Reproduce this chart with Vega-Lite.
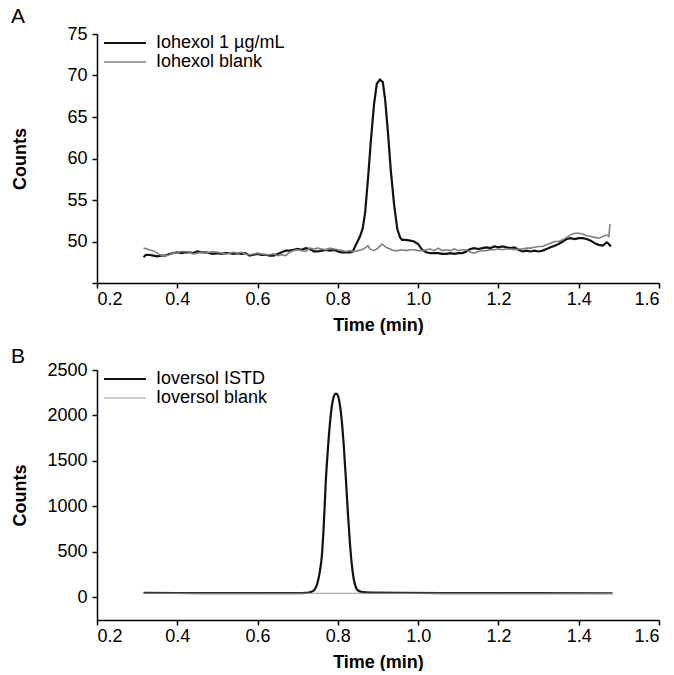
{
  "$schema": "https://vega.github.io/schema/vega-lite/v6.json",
  "background": "white",
  "padding": {"left": 11, "top": 6, "right": 5, "bottom": 0},
  "config": {
    "font": "Liberation Sans",
    "view": {"stroke": null},
    "axis": {"domainColor": "#000", "tickColor": "#000", "labelColor": "#000", "titleColor": "#000", "grid": false, "labelFontSize": 18, "titleFontSize": 18, "titleFontWeight": "bold", "tickSize": 5, "domainWidth": 1.5, "tickWidth": 1.5, "labelFont": "Liberation Sans", "titleFont": "Liberation Sans"},
    "legend": {"labelFontSize": 18, "labelFont": "Liberation Sans", "labelColor": "#000", "symbolType": "M-5,0H5", "symbolSize": 70.56, "labelOffset": 22, "rowPadding": 1, "padding": 0},
    "title": {"fontSize": 21, "fontWeight": "normal", "anchor": "start", "frame": "bounds", "color": "#000", "font": "Liberation Sans"}
  },
  "datasets": {
    "a": [
      {"t":0.316,"counts":48.1,"series":"Iohexol 1 µg/mL"},{"t":0.322,"counts":48.4,"series":"Iohexol 1 µg/mL"},{"t":0.33,"counts":48.4,"series":"Iohexol 1 µg/mL"},{"t":0.34,"counts":48.3,"series":"Iohexol 1 µg/mL"},{"t":0.35,"counts":48.2,"series":"Iohexol 1 µg/mL"},{"t":0.36,"counts":48.3,"series":"Iohexol 1 µg/mL"},{"t":0.37,"counts":48.3,"series":"Iohexol 1 µg/mL"},{"t":0.38,"counts":48.5,"series":"Iohexol 1 µg/mL"},{"t":0.39,"counts":48.6,"series":"Iohexol 1 µg/mL"},{"t":0.40,"counts":48.7,"series":"Iohexol 1 µg/mL"},
      {"t":0.41,"counts":48.6,"series":"Iohexol 1 µg/mL"},{"t":0.42,"counts":48.7,"series":"Iohexol 1 µg/mL"},{"t":0.43,"counts":48.7,"series":"Iohexol 1 µg/mL"},{"t":0.44,"counts":48.6,"series":"Iohexol 1 µg/mL"},{"t":0.45,"counts":48.8,"series":"Iohexol 1 µg/mL"},{"t":0.46,"counts":48.7,"series":"Iohexol 1 µg/mL"},{"t":0.47,"counts":48.7,"series":"Iohexol 1 µg/mL"},{"t":0.48,"counts":48.6,"series":"Iohexol 1 µg/mL"},{"t":0.49,"counts":48.5,"series":"Iohexol 1 µg/mL"},{"t":0.50,"counts":48.6,"series":"Iohexol 1 µg/mL"},
      {"t":0.51,"counts":48.5,"series":"Iohexol 1 µg/mL"},{"t":0.52,"counts":48.6,"series":"Iohexol 1 µg/mL"},{"t":0.53,"counts":48.6,"series":"Iohexol 1 µg/mL"},{"t":0.54,"counts":48.5,"series":"Iohexol 1 µg/mL"},{"t":0.55,"counts":48.6,"series":"Iohexol 1 µg/mL"},{"t":0.56,"counts":48.5,"series":"Iohexol 1 µg/mL"},{"t":0.57,"counts":48.6,"series":"Iohexol 1 µg/mL"},{"t":0.58,"counts":48.3,"series":"Iohexol 1 µg/mL"},{"t":0.59,"counts":48.4,"series":"Iohexol 1 µg/mL"},{"t":0.60,"counts":48.5,"series":"Iohexol 1 µg/mL"},
      {"t":0.61,"counts":48.4,"series":"Iohexol 1 µg/mL"},{"t":0.62,"counts":48.4,"series":"Iohexol 1 µg/mL"},{"t":0.63,"counts":48.3,"series":"Iohexol 1 µg/mL"},{"t":0.64,"counts":48.3,"series":"Iohexol 1 µg/mL"},{"t":0.65,"counts":48.5,"series":"Iohexol 1 µg/mL"},{"t":0.66,"counts":48.7,"series":"Iohexol 1 µg/mL"},{"t":0.67,"counts":48.9,"series":"Iohexol 1 µg/mL"},{"t":0.68,"counts":48.9,"series":"Iohexol 1 µg/mL"},{"t":0.69,"counts":49.0,"series":"Iohexol 1 µg/mL"},{"t":0.70,"counts":49.1,"series":"Iohexol 1 µg/mL"},
      {"t":0.71,"counts":49.0,"series":"Iohexol 1 µg/mL"},{"t":0.72,"counts":49.2,"series":"Iohexol 1 µg/mL"},{"t":0.73,"counts":49.1,"series":"Iohexol 1 µg/mL"},{"t":0.74,"counts":48.8,"series":"Iohexol 1 µg/mL"},{"t":0.75,"counts":48.8,"series":"Iohexol 1 µg/mL"},{"t":0.76,"counts":48.9,"series":"Iohexol 1 µg/mL"},{"t":0.77,"counts":49.0,"series":"Iohexol 1 µg/mL"},{"t":0.78,"counts":48.9,"series":"Iohexol 1 µg/mL"},{"t":0.79,"counts":49.0,"series":"Iohexol 1 µg/mL"},{"t":0.80,"counts":48.8,"series":"Iohexol 1 µg/mL"},
      {"t":0.81,"counts":48.7,"series":"Iohexol 1 µg/mL"},{"t":0.82,"counts":48.7,"series":"Iohexol 1 µg/mL"},{"t":0.83,"counts":48.7,"series":"Iohexol 1 µg/mL"},{"t":0.837,"counts":48.8,"series":"Iohexol 1 µg/mL"},{"t":0.845,"counts":49.6,"series":"Iohexol 1 µg/mL"},{"t":0.855,"counts":50.6,"series":"Iohexol 1 µg/mL"},{"t":0.862,"counts":51.6,"series":"Iohexol 1 µg/mL"},{"t":0.868,"counts":53.5,"series":"Iohexol 1 µg/mL"},{"t":0.875,"counts":57.5,"series":"Iohexol 1 µg/mL"},{"t":0.882,"counts":62.0,"series":"Iohexol 1 µg/mL"},
      {"t":0.89,"counts":66.5,"series":"Iohexol 1 µg/mL"},{"t":0.897,"counts":69.0,"series":"Iohexol 1 µg/mL"},{"t":0.905,"counts":69.5,"series":"Iohexol 1 µg/mL"},{"t":0.912,"counts":69.2,"series":"Iohexol 1 µg/mL"},{"t":0.918,"counts":67.0,"series":"Iohexol 1 µg/mL"},{"t":0.925,"counts":63.0,"series":"Iohexol 1 µg/mL"},{"t":0.932,"counts":58.5,"series":"Iohexol 1 µg/mL"},{"t":0.94,"counts":54.5,"series":"Iohexol 1 µg/mL"},{"t":0.948,"counts":51.5,"series":"Iohexol 1 µg/mL"},{"t":0.955,"counts":50.5,"series":"Iohexol 1 µg/mL"},
      {"t":0.96,"counts":50.2,"series":"Iohexol 1 µg/mL"},{"t":0.97,"counts":50.2,"series":"Iohexol 1 µg/mL"},{"t":0.98,"counts":50.1,"series":"Iohexol 1 µg/mL"},{"t":0.99,"counts":50.0,"series":"Iohexol 1 µg/mL"},{"t":1.00,"counts":49.7,"series":"Iohexol 1 µg/mL"},{"t":1.01,"counts":49.0,"series":"Iohexol 1 µg/mL"},{"t":1.02,"counts":48.7,"series":"Iohexol 1 µg/mL"},{"t":1.03,"counts":48.6,"series":"Iohexol 1 µg/mL"},{"t":1.04,"counts":48.6,"series":"Iohexol 1 µg/mL"},{"t":1.05,"counts":48.6,"series":"Iohexol 1 µg/mL"},
      {"t":1.06,"counts":48.5,"series":"Iohexol 1 µg/mL"},{"t":1.07,"counts":48.5,"series":"Iohexol 1 µg/mL"},{"t":1.08,"counts":48.6,"series":"Iohexol 1 µg/mL"},{"t":1.09,"counts":48.5,"series":"Iohexol 1 µg/mL"},{"t":1.10,"counts":48.6,"series":"Iohexol 1 µg/mL"},{"t":1.11,"counts":48.6,"series":"Iohexol 1 µg/mL"},{"t":1.12,"counts":48.8,"series":"Iohexol 1 µg/mL"},{"t":1.13,"counts":49.1,"series":"Iohexol 1 µg/mL"},{"t":1.14,"counts":49.2,"series":"Iohexol 1 µg/mL"},{"t":1.15,"counts":49.1,"series":"Iohexol 1 µg/mL"},
      {"t":1.16,"counts":49.2,"series":"Iohexol 1 µg/mL"},{"t":1.17,"counts":49.3,"series":"Iohexol 1 µg/mL"},{"t":1.18,"counts":49.2,"series":"Iohexol 1 µg/mL"},{"t":1.19,"counts":49.4,"series":"Iohexol 1 µg/mL"},{"t":1.20,"counts":49.3,"series":"Iohexol 1 µg/mL"},{"t":1.21,"counts":49.4,"series":"Iohexol 1 µg/mL"},{"t":1.22,"counts":49.3,"series":"Iohexol 1 µg/mL"},{"t":1.23,"counts":49.2,"series":"Iohexol 1 µg/mL"},{"t":1.24,"counts":49.3,"series":"Iohexol 1 µg/mL"},{"t":1.25,"counts":49.0,"series":"Iohexol 1 µg/mL"},
      {"t":1.26,"counts":48.8,"series":"Iohexol 1 µg/mL"},{"t":1.27,"counts":48.9,"series":"Iohexol 1 µg/mL"},{"t":1.28,"counts":48.8,"series":"Iohexol 1 µg/mL"},{"t":1.29,"counts":48.9,"series":"Iohexol 1 µg/mL"},{"t":1.30,"counts":48.8,"series":"Iohexol 1 µg/mL"},{"t":1.31,"counts":48.9,"series":"Iohexol 1 µg/mL"},{"t":1.32,"counts":49.1,"series":"Iohexol 1 µg/mL"},{"t":1.33,"counts":49.3,"series":"Iohexol 1 µg/mL"},{"t":1.34,"counts":49.5,"series":"Iohexol 1 µg/mL"},{"t":1.35,"counts":49.7,"series":"Iohexol 1 µg/mL"},
      {"t":1.36,"counts":50.0,"series":"Iohexol 1 µg/mL"},{"t":1.37,"counts":50.3,"series":"Iohexol 1 µg/mL"},{"t":1.38,"counts":50.4,"series":"Iohexol 1 µg/mL"},{"t":1.39,"counts":50.3,"series":"Iohexol 1 µg/mL"},{"t":1.40,"counts":50.4,"series":"Iohexol 1 µg/mL"},{"t":1.41,"counts":50.4,"series":"Iohexol 1 µg/mL"},{"t":1.42,"counts":50.3,"series":"Iohexol 1 µg/mL"},{"t":1.43,"counts":50.1,"series":"Iohexol 1 µg/mL"},{"t":1.44,"counts":49.8,"series":"Iohexol 1 µg/mL"},{"t":1.45,"counts":49.6,"series":"Iohexol 1 µg/mL"},
      {"t":1.46,"counts":49.5,"series":"Iohexol 1 µg/mL"},{"t":1.465,"counts":49.7,"series":"Iohexol 1 µg/mL"},{"t":1.47,"counts":49.9,"series":"Iohexol 1 µg/mL"},{"t":1.475,"counts":49.7,"series":"Iohexol 1 µg/mL"},{"t":1.48,"counts":49.4,"series":"Iohexol 1 µg/mL"},
      {"t":0.316,"counts":49.2,"series":"Iohexol blank"},{"t":0.325,"counts":49.1,"series":"Iohexol blank"},{"t":0.33,"counts":49.0,"series":"Iohexol blank"},{"t":0.34,"counts":48.9,"series":"Iohexol blank"},{"t":0.35,"counts":48.6,"series":"Iohexol blank"},{"t":0.36,"counts":48.3,"series":"Iohexol blank"},{"t":0.37,"counts":48.3,"series":"Iohexol blank"},{"t":0.38,"counts":48.4,"series":"Iohexol blank"},{"t":0.39,"counts":48.6,"series":"Iohexol blank"},{"t":0.40,"counts":48.6,"series":"Iohexol blank"},
      {"t":0.41,"counts":48.8,"series":"Iohexol blank"},{"t":0.42,"counts":48.8,"series":"Iohexol blank"},{"t":0.43,"counts":48.7,"series":"Iohexol blank"},{"t":0.44,"counts":48.5,"series":"Iohexol blank"},{"t":0.45,"counts":48.6,"series":"Iohexol blank"},{"t":0.46,"counts":48.7,"series":"Iohexol blank"},{"t":0.47,"counts":48.6,"series":"Iohexol blank"},{"t":0.48,"counts":48.7,"series":"Iohexol blank"},{"t":0.49,"counts":48.8,"series":"Iohexol blank"},{"t":0.50,"counts":48.7,"series":"Iohexol blank"},
      {"t":0.51,"counts":48.6,"series":"Iohexol blank"},{"t":0.52,"counts":48.5,"series":"Iohexol blank"},{"t":0.53,"counts":48.6,"series":"Iohexol blank"},{"t":0.54,"counts":48.7,"series":"Iohexol blank"},{"t":0.55,"counts":48.6,"series":"Iohexol blank"},{"t":0.56,"counts":48.7,"series":"Iohexol blank"},{"t":0.57,"counts":48.5,"series":"Iohexol blank"},{"t":0.58,"counts":48.4,"series":"Iohexol blank"},{"t":0.59,"counts":48.5,"series":"Iohexol blank"},{"t":0.60,"counts":48.6,"series":"Iohexol blank"},
      {"t":0.61,"counts":48.5,"series":"Iohexol blank"},{"t":0.62,"counts":48.4,"series":"Iohexol blank"},{"t":0.63,"counts":48.4,"series":"Iohexol blank"},{"t":0.64,"counts":48.5,"series":"Iohexol blank"},{"t":0.65,"counts":48.3,"series":"Iohexol blank"},{"t":0.66,"counts":48.4,"series":"Iohexol blank"},{"t":0.67,"counts":48.3,"series":"Iohexol blank"},{"t":0.68,"counts":48.7,"series":"Iohexol blank"},{"t":0.69,"counts":48.9,"series":"Iohexol blank"},{"t":0.70,"counts":49.0,"series":"Iohexol blank"},
      {"t":0.71,"counts":48.9,"series":"Iohexol blank"},{"t":0.72,"counts":48.8,"series":"Iohexol blank"},{"t":0.73,"counts":49.2,"series":"Iohexol blank"},{"t":0.74,"counts":49.1,"series":"Iohexol blank"},{"t":0.75,"counts":49.2,"series":"Iohexol blank"},{"t":0.76,"counts":49.1,"series":"Iohexol blank"},{"t":0.77,"counts":49.0,"series":"Iohexol blank"},{"t":0.78,"counts":49.2,"series":"Iohexol blank"},{"t":0.79,"counts":49.1,"series":"Iohexol blank"},{"t":0.80,"counts":49.0,"series":"Iohexol blank"},
      {"t":0.81,"counts":48.9,"series":"Iohexol blank"},{"t":0.82,"counts":48.8,"series":"Iohexol blank"},{"t":0.83,"counts":48.9,"series":"Iohexol blank"},{"t":0.84,"counts":48.8,"series":"Iohexol blank"},{"t":0.85,"counts":48.9,"series":"Iohexol blank"},{"t":0.86,"counts":49.0,"series":"Iohexol blank"},{"t":0.87,"counts":49.3,"series":"Iohexol blank"},{"t":0.875,"counts":49.5,"series":"Iohexol blank"},{"t":0.88,"counts":49.1,"series":"Iohexol blank"},{"t":0.89,"counts":48.9,"series":"Iohexol blank"},
      {"t":0.90,"counts":49.2,"series":"Iohexol blank"},{"t":0.91,"counts":49.7,"series":"Iohexol blank"},{"t":0.92,"counts":49.3,"series":"Iohexol blank"},{"t":0.93,"counts":49.1,"series":"Iohexol blank"},{"t":0.94,"counts":48.9,"series":"Iohexol blank"},{"t":0.95,"counts":48.9,"series":"Iohexol blank"},{"t":0.96,"counts":49.0,"series":"Iohexol blank"},{"t":0.97,"counts":48.9,"series":"Iohexol blank"},{"t":0.98,"counts":49.0,"series":"Iohexol blank"},{"t":0.99,"counts":49.0,"series":"Iohexol blank"},
      {"t":1.00,"counts":48.9,"series":"Iohexol blank"},{"t":1.01,"counts":48.9,"series":"Iohexol blank"},{"t":1.02,"counts":49.0,"series":"Iohexol blank"},{"t":1.03,"counts":49.1,"series":"Iohexol blank"},{"t":1.04,"counts":48.9,"series":"Iohexol blank"},{"t":1.05,"counts":49.2,"series":"Iohexol blank"},{"t":1.06,"counts":48.9,"series":"Iohexol blank"},{"t":1.07,"counts":49.0,"series":"Iohexol blank"},{"t":1.08,"counts":48.9,"series":"Iohexol blank"},{"t":1.09,"counts":49.1,"series":"Iohexol blank"},
      {"t":1.10,"counts":48.9,"series":"Iohexol blank"},{"t":1.11,"counts":49.0,"series":"Iohexol blank"},{"t":1.12,"counts":49.0,"series":"Iohexol blank"},{"t":1.13,"counts":48.7,"series":"Iohexol blank"},{"t":1.14,"counts":48.6,"series":"Iohexol blank"},{"t":1.15,"counts":48.8,"series":"Iohexol blank"},{"t":1.16,"counts":48.9,"series":"Iohexol blank"},{"t":1.17,"counts":48.9,"series":"Iohexol blank"},{"t":1.18,"counts":49.0,"series":"Iohexol blank"},{"t":1.19,"counts":49.0,"series":"Iohexol blank"},
      {"t":1.20,"counts":49.1,"series":"Iohexol blank"},{"t":1.21,"counts":49.0,"series":"Iohexol blank"},{"t":1.22,"counts":49.1,"series":"Iohexol blank"},{"t":1.23,"counts":49.1,"series":"Iohexol blank"},{"t":1.24,"counts":49.0,"series":"Iohexol blank"},{"t":1.25,"counts":49.1,"series":"Iohexol blank"},{"t":1.26,"counts":49.1,"series":"Iohexol blank"},{"t":1.27,"counts":49.2,"series":"Iohexol blank"},{"t":1.28,"counts":49.2,"series":"Iohexol blank"},{"t":1.29,"counts":49.3,"series":"Iohexol blank"},
      {"t":1.30,"counts":49.4,"series":"Iohexol blank"},{"t":1.31,"counts":49.4,"series":"Iohexol blank"},{"t":1.32,"counts":49.6,"series":"Iohexol blank"},{"t":1.33,"counts":49.8,"series":"Iohexol blank"},{"t":1.34,"counts":50.0,"series":"Iohexol blank"},{"t":1.35,"counts":50.0,"series":"Iohexol blank"},{"t":1.36,"counts":50.2,"series":"Iohexol blank"},{"t":1.37,"counts":50.5,"series":"Iohexol blank"},{"t":1.38,"counts":50.8,"series":"Iohexol blank"},{"t":1.39,"counts":51.0,"series":"Iohexol blank"},
      {"t":1.40,"counts":51.0,"series":"Iohexol blank"},{"t":1.41,"counts":50.9,"series":"Iohexol blank"},{"t":1.42,"counts":50.7,"series":"Iohexol blank"},{"t":1.43,"counts":50.6,"series":"Iohexol blank"},{"t":1.44,"counts":50.5,"series":"Iohexol blank"},{"t":1.45,"counts":50.4,"series":"Iohexol blank"},{"t":1.46,"counts":50.6,"series":"Iohexol blank"},{"t":1.47,"counts":50.8,"series":"Iohexol blank"},{"t":1.475,"counts":50.6,"series":"Iohexol blank"},{"t":1.478,"counts":52.1,"series":"Iohexol blank"}
    ],
    "b": [
      {"t":0.316,"counts":48,"series":"Ioversol ISTD"},{"t":0.4,"counts":47,"series":"Ioversol ISTD"},{"t":0.5,"counts":46,"series":"Ioversol ISTD"},{"t":0.6,"counts":45,"series":"Ioversol ISTD"},{"t":0.7,"counts":46,"series":"Ioversol ISTD"},{"t":0.72,"counts":48,"series":"Ioversol ISTD"},{"t":0.73,"counts":55,"series":"Ioversol ISTD"},{"t":0.74,"counts":75,"series":"Ioversol ISTD"},{"t":0.75,"counts":170,"series":"Ioversol ISTD"},{"t":0.755,"counts":280,"series":"Ioversol ISTD"},
      {"t":0.76,"counts":450,"series":"Ioversol ISTD"},{"t":0.765,"counts":800,"series":"Ioversol ISTD"},{"t":0.77,"counts":1280,"series":"Ioversol ISTD"},{"t":0.775,"counts":1620,"series":"Ioversol ISTD"},{"t":0.78,"counts":1900,"series":"Ioversol ISTD"},{"t":0.785,"counts":2100,"series":"Ioversol ISTD"},{"t":0.79,"counts":2210,"series":"Ioversol ISTD"},{"t":0.795,"counts":2240,"series":"Ioversol ISTD"},{"t":0.80,"counts":2220,"series":"Ioversol ISTD"},{"t":0.805,"counts":2120,"series":"Ioversol ISTD"},
      {"t":0.81,"counts":1930,"series":"Ioversol ISTD"},{"t":0.815,"counts":1650,"series":"Ioversol ISTD"},{"t":0.82,"counts":1300,"series":"Ioversol ISTD"},{"t":0.825,"counts":930,"series":"Ioversol ISTD"},{"t":0.83,"counts":600,"series":"Ioversol ISTD"},{"t":0.835,"counts":350,"series":"Ioversol ISTD"},{"t":0.84,"counts":190,"series":"Ioversol ISTD"},{"t":0.845,"counts":110,"series":"Ioversol ISTD"},{"t":0.85,"counts":75,"series":"Ioversol ISTD"},{"t":0.86,"counts":58,"series":"Ioversol ISTD"},
      {"t":0.88,"counts":52,"series":"Ioversol ISTD"},{"t":0.95,"counts":50,"series":"Ioversol ISTD"},{"t":1.1,"counts":46,"series":"Ioversol ISTD"},{"t":1.3,"counts":45,"series":"Ioversol ISTD"},{"t":1.484,"counts":44,"series":"Ioversol ISTD"},
      {"t":0.316,"counts":44,"series":"Ioversol blank"},{"t":0.6,"counts":44,"series":"Ioversol blank"},{"t":0.9,"counts":44,"series":"Ioversol blank"},{"t":1.2,"counts":44,"series":"Ioversol blank"},{"t":1.484,"counts":44,"series":"Ioversol blank"}
    ]
  },
  "spacing": 12,
  "resolve": {"scale": {"color": "independent", "strokeWidth": "independent"}, "legend": {"color": "independent"}},
  "vconcat": [
    {
      "title": {"text": "A", "offset": -2},
      "width": 562,
      "height": 249,
      "data": {"name": "a"},
      "mark": {"type": "line", "interpolate": "linear"},
      "encoding": {
        "x": {"field": "t", "type": "quantitative", "scale": {"domain": [0.2, 1.6]}, "axis": {"values": [0.2, 0.4, 0.6, 0.8, 1.0, 1.2, 1.4, 1.6], "format": ".1f", "title": "Time (min)", "labelPadding": 2, "titlePadding": 8}},
        "y": {"field": "counts", "type": "quantitative", "scale": {"domain": [45, 75]}, "axis": {"values": [45, 50, 55, 60, 65, 70, 75], "labelExpr": "datum.value == 45 ? '' : datum.label", "title": "Counts", "titleX": -68, "labelPadding": 5}},
        "color": {"field": "series", "type": "nominal", "scale": {"domain": ["Iohexol 1 µg/mL", "Iohexol blank"], "range": ["#111111", "#808080"]}, "legend": {"title": null, "orient": "none", "legendX": 19, "legendY": 0}},
        "strokeWidth": {"field": "series", "type": "nominal", "scale": {"domain": ["Iohexol 1 µg/mL", "Iohexol blank"], "range": [2.2, 1.6]}, "legend": null}
      }
    },
    {
      "title": {"text": "B", "offset": -6},
      "width": 562,
      "height": 250,
      "data": {"name": "b"},
      "mark": {"type": "line", "interpolate": "monotone"},
      "encoding": {
        "x": {"field": "t", "type": "quantitative", "scale": {"domain": [0.2, 1.6]}, "axis": {"values": [0.2, 0.4, 0.6, 0.8, 1.0, 1.2, 1.4, 1.6], "format": ".1f", "title": "Time (min)", "labelPadding": 2, "titlePadding": 8}},
        "y": {"field": "counts", "type": "quantitative", "scale": {"domain": [-250, 2500]}, "axis": {"values": [0, 500, 1000, 1500, 2000, 2500], "format": "d", "title": "Counts", "titleX": -68, "labelPadding": 5}},
        "color": {"field": "series", "type": "nominal", "scale": {"domain": ["Ioversol ISTD", "Ioversol blank"], "range": ["#111111", "#999999"]}, "legend": {"title": null, "orient": "none", "legendX": 19, "legendY": 0}},
        "strokeWidth": {"field": "series", "type": "nominal", "scale": {"domain": ["Ioversol ISTD", "Ioversol blank"], "range": [2.2, 1]}, "legend": null}
      }
    }
  ]
}
